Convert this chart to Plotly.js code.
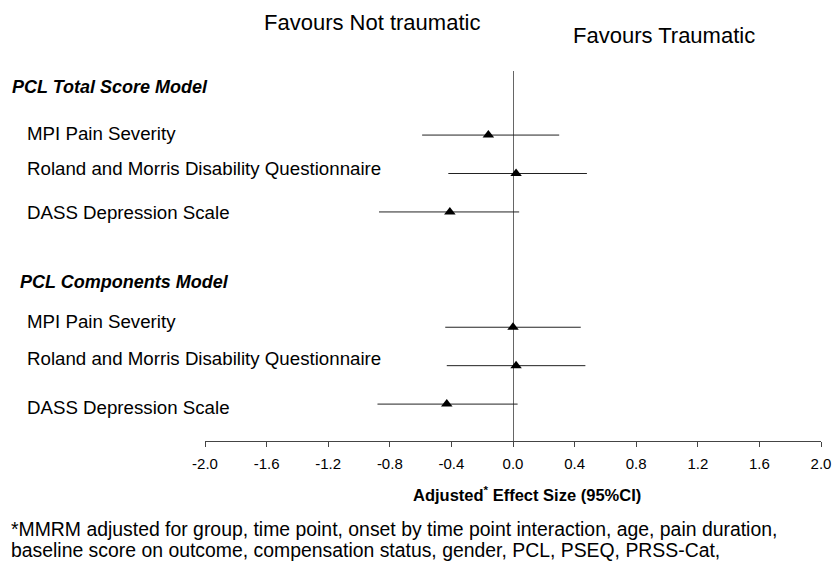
<!DOCTYPE html>
<html>
<head>
<meta charset="utf-8">
<script src="https://cdn.plot.ly/plotly-3.0.1.min.js"></script>
<style>html,body{margin:0;padding:0;background:#fff;}#chart{width:835px;height:568px;}</style>
</head>
<body>
<div id="chart"></div>
<script>
// ---- data ----
var groups = ["PCL Total Score Model", "PCL Components Model"];
var outcomes = ["MPI Pain Severity", "Roland and Morris Disability Questionnaire", "DASS Depression Scale"];
var totalEst = [-0.16, 0.02, -0.41];
var totalLow = [-0.59, -0.42, -0.87];
var totalHigh = [0.30, 0.48, 0.04];
var compEst = [0.00, 0.02, -0.43];
var compLow = [-0.44, -0.43, -0.88];
var compHigh = [0.44, 0.47, 0.03];
var tickValues = [-2.0, -1.6, -1.2, -0.8, -0.4, 0.0, 0.4, 0.8, 1.2, 1.6, 2.0];
var leftHeader = "Favours Not traumatic";
var rightHeader = "Favours Traumatic";
var xTitle = "<b>Adjusted<sup>*</sup> Effect Size (95%CI)</b>";
var footnote = ["*MMRM adjusted for group, time point, onset by time point interaction, age, pain duration,",
                "baseline score on outcome, compensation status, gender, PCL, PSEQ, PRSS-Cat,"];

// ---- layout helpers ----
var L = 205, R = 14, T = 71, B = 127, W = 835, H = 568;
var PW = W - L - R, PH = H - T - B;
function px(x) { return (x - L) / PW; }
function py(y) { return (H - B - y) / PH; }

var font = "Liberation Sans, Arial, sans-serif";
var ests = [totalEst, compEst], lows = [totalLow, compLow], highs = [totalHigh, compHigh];
var groupStep = 5, groupStart = 0;

var traces = [];
var annotations = [];
var labelShift = [[2, 5, -1], [6, 7, -3]];
var labelIndent = [25, 25];
var headerX = [10, 18];
var headerShift = [48, 45];

groups.forEach(function (g, gi) {
  var ys = outcomes.map(function (o, i) { return groupStart + gi * groupStep + i; });
  var e = ests[gi];
  traces.push({
    type: "scatter", mode: "markers",
    x: e, y: ys,
    marker: { symbol: "triangle-up", size: 10, color: "#000" },
    error_x: {
      type: "data", symmetric: false,
      array: e.map(function (v, i) { return highs[gi][i] - v; }),
      arrayminus: e.map(function (v, i) { return v - lows[gi][i]; }),
      color: "#222", thickness: 1, width: 0
    },
    hoverinfo: "x+y", showlegend: false
  });
  annotations.push({
    xref: "paper", yref: "y", x: px(headerX[gi]), y: ys[0], yshift: headerShift[gi],
    xanchor: "left", yanchor: "middle", showarrow: false,
    text: "<b><i>" + g + "</i></b>", font: { family: font, size: 18, color: "#000" }
  });
  outcomes.forEach(function (o, i) {
    annotations.push({
      xref: "paper", yref: "y", x: px(labelIndent[gi]), y: ys[i], yshift: labelShift[gi][i],
      xanchor: "left", yanchor: "middle", showarrow: false,
      text: o, font: { family: font, size: 18.7, color: "#000" }
    });
  });
});

annotations.push({
  xref: "paper", yref: "paper", x: px(372), y: py(22), xanchor: "center", yanchor: "middle",
  showarrow: false, text: leftHeader, font: { family: font, size: 22, color: "#000" }
});
annotations.push({
  xref: "paper", yref: "paper", x: px(664), y: py(35), xanchor: "center", yanchor: "middle",
  showarrow: false, text: rightHeader, font: { family: font, size: 22, color: "#000" }
});
annotations.push({
  xref: "paper", yref: "paper", x: px(527), y: py(494), xanchor: "center", yanchor: "middle",
  showarrow: false, text: xTitle, font: { family: font, size: 16.5, color: "#000" }
});
footnote.forEach(function (line, i) {
  annotations.push({
    xref: "paper", yref: "paper", x: px(9), y: py(529 + i * 21), xanchor: "left", yanchor: "middle",
    showarrow: false, text: line, font: { family: font, size: 19.4, color: "#000" }
  });
});

var layout = {
  width: W, height: H,
  margin: { l: L, r: R, t: T, b: B, pad: 0 },
  paper_bgcolor: "#fff", plot_bgcolor: "#fff",
  xaxis: {
    range: [-2.0, 2.0], tickvals: tickValues,
    ticktext: tickValues.map(function (v) { return v.toFixed(1); }),
    showgrid: false, zeroline: true, zerolinecolor: "#666", zerolinewidth: 1,
    showline: true, linecolor: "#444", linewidth: 1,
    ticks: "outside", ticklen: 5, tickcolor: "#444",
    ticklabelstandoff: 4,
    tickfont: { family: font, size: 15, color: "#000" }
  },
  yaxis: {
    range: [7.96, -1.667], showgrid: false, zeroline: false, showline: false,
    showticklabels: false, ticks: ""
  },
  annotations: annotations,
  showlegend: false
};

Plotly.newPlot("chart", traces, layout, { displayModeBar: false, staticPlot: true });
</script>
</body>
</html>
